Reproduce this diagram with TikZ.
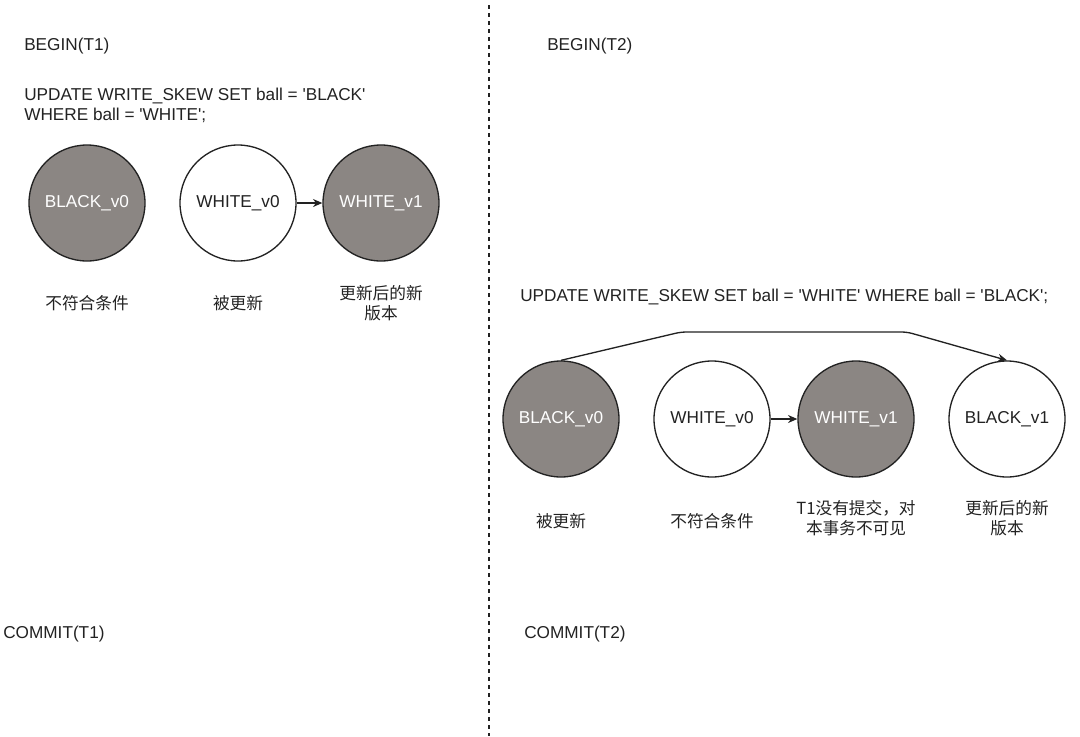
\documentclass[tikz,border=0pt]{standalone}
\usepackage{fontspec}
\setmainfont{Liberation Sans}
\newfontfamily\cjk{Noto Sans CJK SC}
\usetikzlibrary{arrows.meta}
\definecolor{ballgray}{HTML}{8B8683}
\definecolor{inkgray}{HTML}{222222}
\newcommand{\sq}{\textquotesingle}
\begin{document}
\begin{tikzpicture}[x=0.75pt, y=-0.75pt,
  every node/.style={font=\fontsize{12.9}{15}\selectfont, text=inkgray},
  sql/.style={anchor=west, inner sep=0pt, align=left},
  ball/.style={circle, draw=inkgray, line width=1pt, minimum size=87pt, inner sep=0pt},
  blackball/.style={ball, fill=ballgray, text=white},
  whiteball/.style={ball, fill=white},
  note/.style={align=center, font=\cjk\fontsize{12.5}{15}\selectfont},
  link/.style={-{Stealth[length=7pt,width=6pt]}, line width=1pt, draw=inkgray}]
\useasboundingbox (0,0) rectangle (1080,736);

% left side: T1
\node[sql] (begin1) at (24,46) {BEGIN(T1)};
\node[sql] (upd1) at (24,105) {UPDATE WRITE\_SKEW SET ball = \sq BLACK\sq\\WHERE ball = \sq WHITE\sq;};
\node[blackball] (b0a) at (87,203) {BLACK\_v0};
\node[whiteball] (w0a) at (238,203) {WHITE\_v0};
\node[blackball] (w1a) at (381,203) {WHITE\_v1};
\draw[link] (w0a) -- (w1a);
\node[note] (n1) at (87,303) {不符合条件};
\node[note] (n2) at (238,303) {被更新};
\node[note] (n3) at (381,303) {更新后的新\\版本};
\node[sql] (commit1) at (3,634) {COMMIT(T1)};

% divider
\coordinate (top) at (489,5);
\coordinate (bottom) at (489,736);
\draw[inkgray, line width=1pt, dash pattern=on 3pt off 3pt] (top) -- (bottom);

% right side: T2
\node[sql] (begin2) at (547,46) {BEGIN(T2)};
\node[sql] (upd2) at (520,297) {UPDATE WRITE\_SKEW SET ball = \sq WHITE\sq{} WHERE ball = \sq BLACK\sq;};
\node[blackball] (b0b) at (561,419) {BLACK\_v0};
\node[whiteball] (w0b) at (712,419) {WHITE\_v0};
\node[blackball] (w1b) at (856,419) {WHITE\_v1};
\node[whiteball] (b1b) at (1007,419) {BLACK\_v1};
\draw[link] (w0b) -- (w1b);
\coordinate (bend1) at (681,332);
\coordinate (bend2) at (907,332);
\draw[link, rounded corners=4pt] (b0b.north) -- (bend1) -- (bend2) -- (b1b.north);
\node[note] (m1) at (561,521) {被更新};
\node[note] (m2) at (712,521) {不符合条件};
\node[note] (m3) at (856,518) {T1没有提交，对\\本事务不可见};
\node[note] (m4) at (1007,518) {更新后的新\\版本};
\node[sql] (commit2) at (524,634) {COMMIT(T2)};
\end{tikzpicture}
\end{document}
